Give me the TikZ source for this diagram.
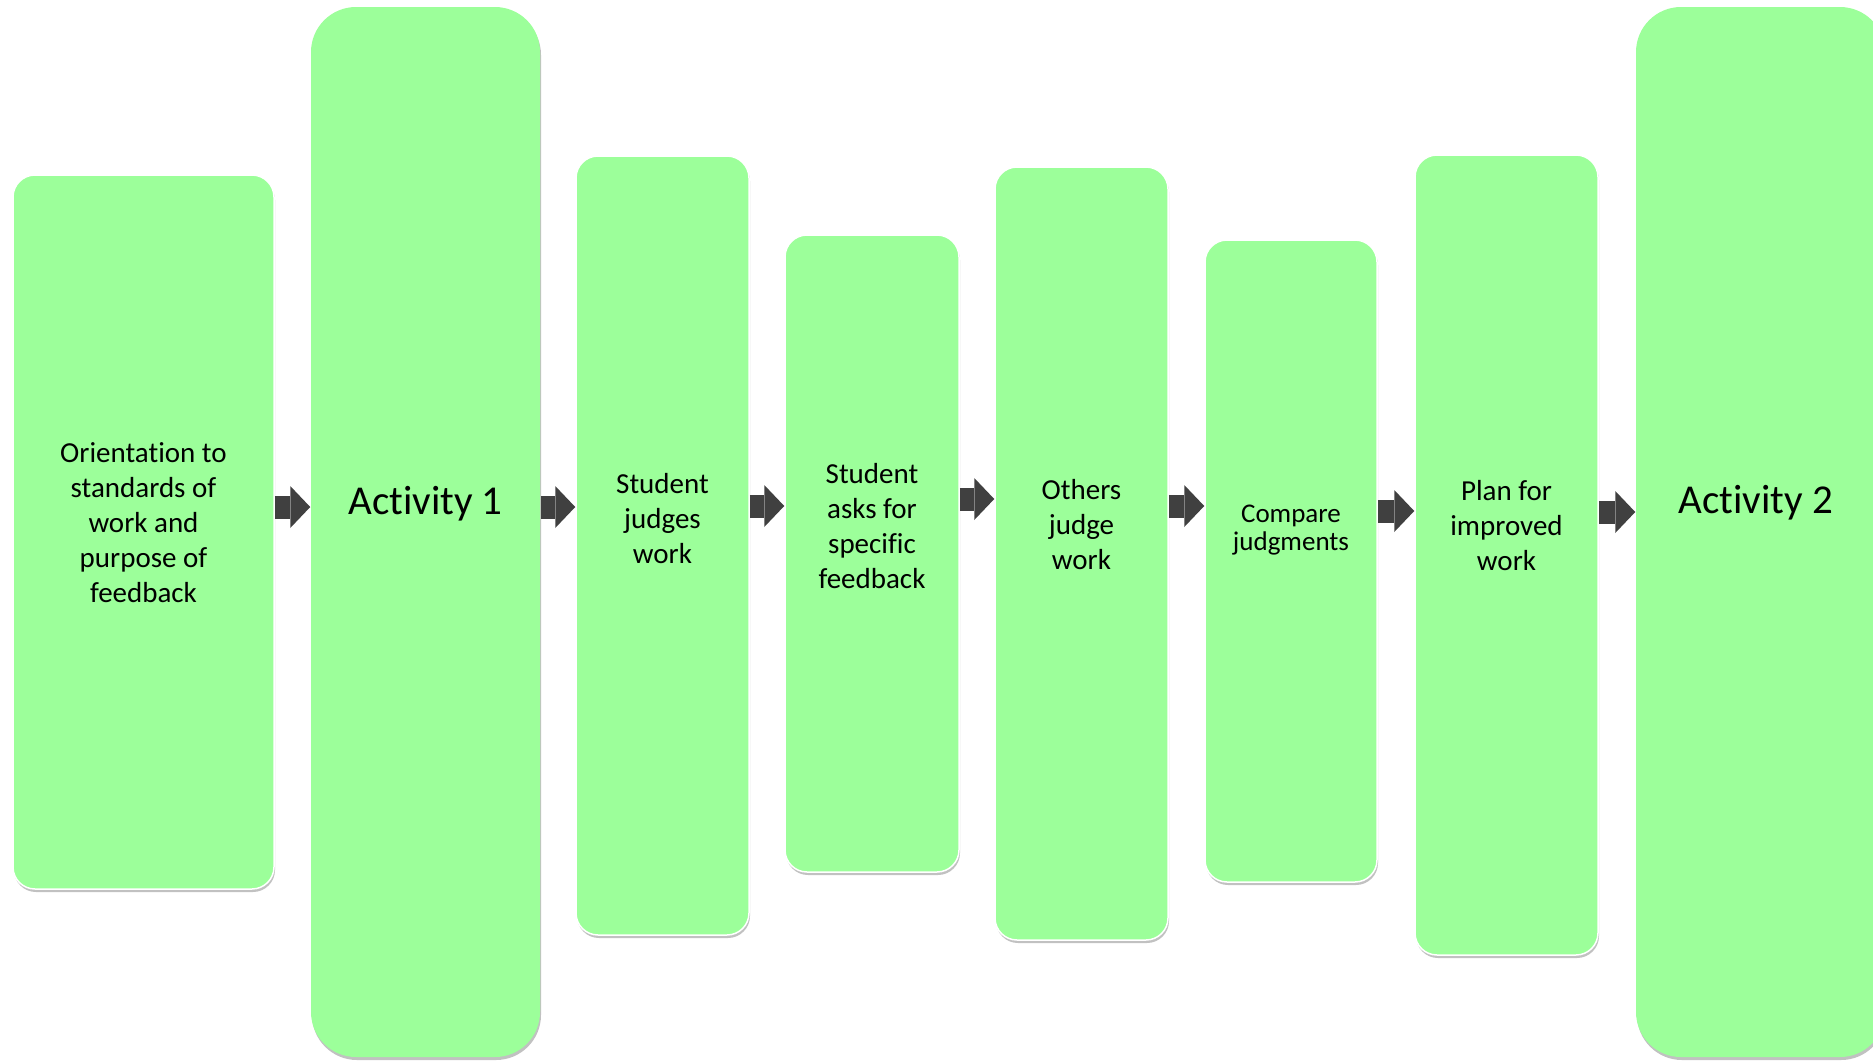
\documentclass[tikz,border=0pt]{standalone}
\usepackage{fontspec}
\setmainfont{Carlito}[Ligatures=NoCommon]
\usepackage{xcolor}
\definecolor{stepgreen}{RGB}{156,255,154}
\definecolor{arrowgray}{RGB}{64,64,64}
\usetikzlibrary{arrows.meta,shadows}

\begin{document}
\begin{tikzpicture}[
  x=1pt, y=-1pt,
  stepbox/.style={draw=white,line width=1.5pt,fill=stepgreen,rounded corners=22pt,inner sep=0pt,
                  drop shadow={shadow xshift=1pt,shadow yshift=-3pt,opacity=0.35,fill=black!70}},
  actbox/.style={stepbox,draw=none,rounded corners=45pt},
  steptext/.style={align=center,font=\fontsize{29}{35}\selectfont},
  acttext/.style={font=\fontsize{41}{48}\selectfont},
  flow/.style={arrowgray,line width=23pt,-{Triangle[length=20pt 0 0,width=42pt 0 0,line width=0pt 0 0]}},
]
\useasboundingbox (0,0) rectangle (1873,1061);

% boxes
\node[stepbox,minimum width=261pt,minimum height=714pt] (orient) at (143.5,532) {};
\node[actbox,minimum width=229pt,minimum height=1050pt] (act1) at (425.5,532) {};
\node[stepbox,minimum width=173pt,minimum height=779pt] (judges) at (662.5,545.5) {};
\node[stepbox,minimum width=174pt,minimum height=637pt] (asks) at (872,553.5) {};
\node[stepbox,minimum width=173pt,minimum height=773pt] (others) at (1081.5,553.5) {};
\node[stepbox,minimum width=172pt,minimum height=642pt] (compare) at (1291,561) {};
\node[stepbox,minimum width=183pt,minimum height=800pt] (plan) at (1506.5,555) {};
\node[actbox,minimum width=249pt,minimum height=1050pt] (act2) at (1760.5,532) {};

% texts
\node[steptext] (orient-text) at (143.5,522.5) {Orientation to\\standards of\\work and\\purpose of\\feedback};
\node[acttext] (act1-text) at (425.5,504) {Activity 1};
\node[steptext] (judges-text) at (662.5,518.5) {Student\\judges\\work};
\node[steptext] (asks-text) at (872,526) {Student\\asks for\\specific\\feedback};
\node[steptext] (others-text) at (1081.5,525) {Others\\judge\\work};
\node[steptext,font=\fontsize{27}{28}\selectfont] (compare-text) at (1291,530.5) {Compare\\judgments};
\node[steptext] (plan-text) at (1506.5,526) {Plan for\\improved\\work};
\node[acttext] (act2-text) at (1756,502.5) {Activity 2};

\draw[flow] (orient.east |- 0,507) -- (act1.west |- 0,507);
\draw[flow] (act1.east |- 0,507) -- (judges.west |- 0,507);
\draw[flow] (judges.east |- 0,506) -- (asks.west |- 0,506);
\draw[flow] (asks.east |- 0,499) -- (others.west |- 0,499);
\draw[flow] (others.east |- 0,506) -- (compare.west |- 0,506);
\draw[flow] (compare.east |- 0,511) -- (plan.west |- 0,511);
\draw[flow] (plan.east |- 0,512) -- (act2.west |- 0,512);
\end{tikzpicture}
\end{document}
